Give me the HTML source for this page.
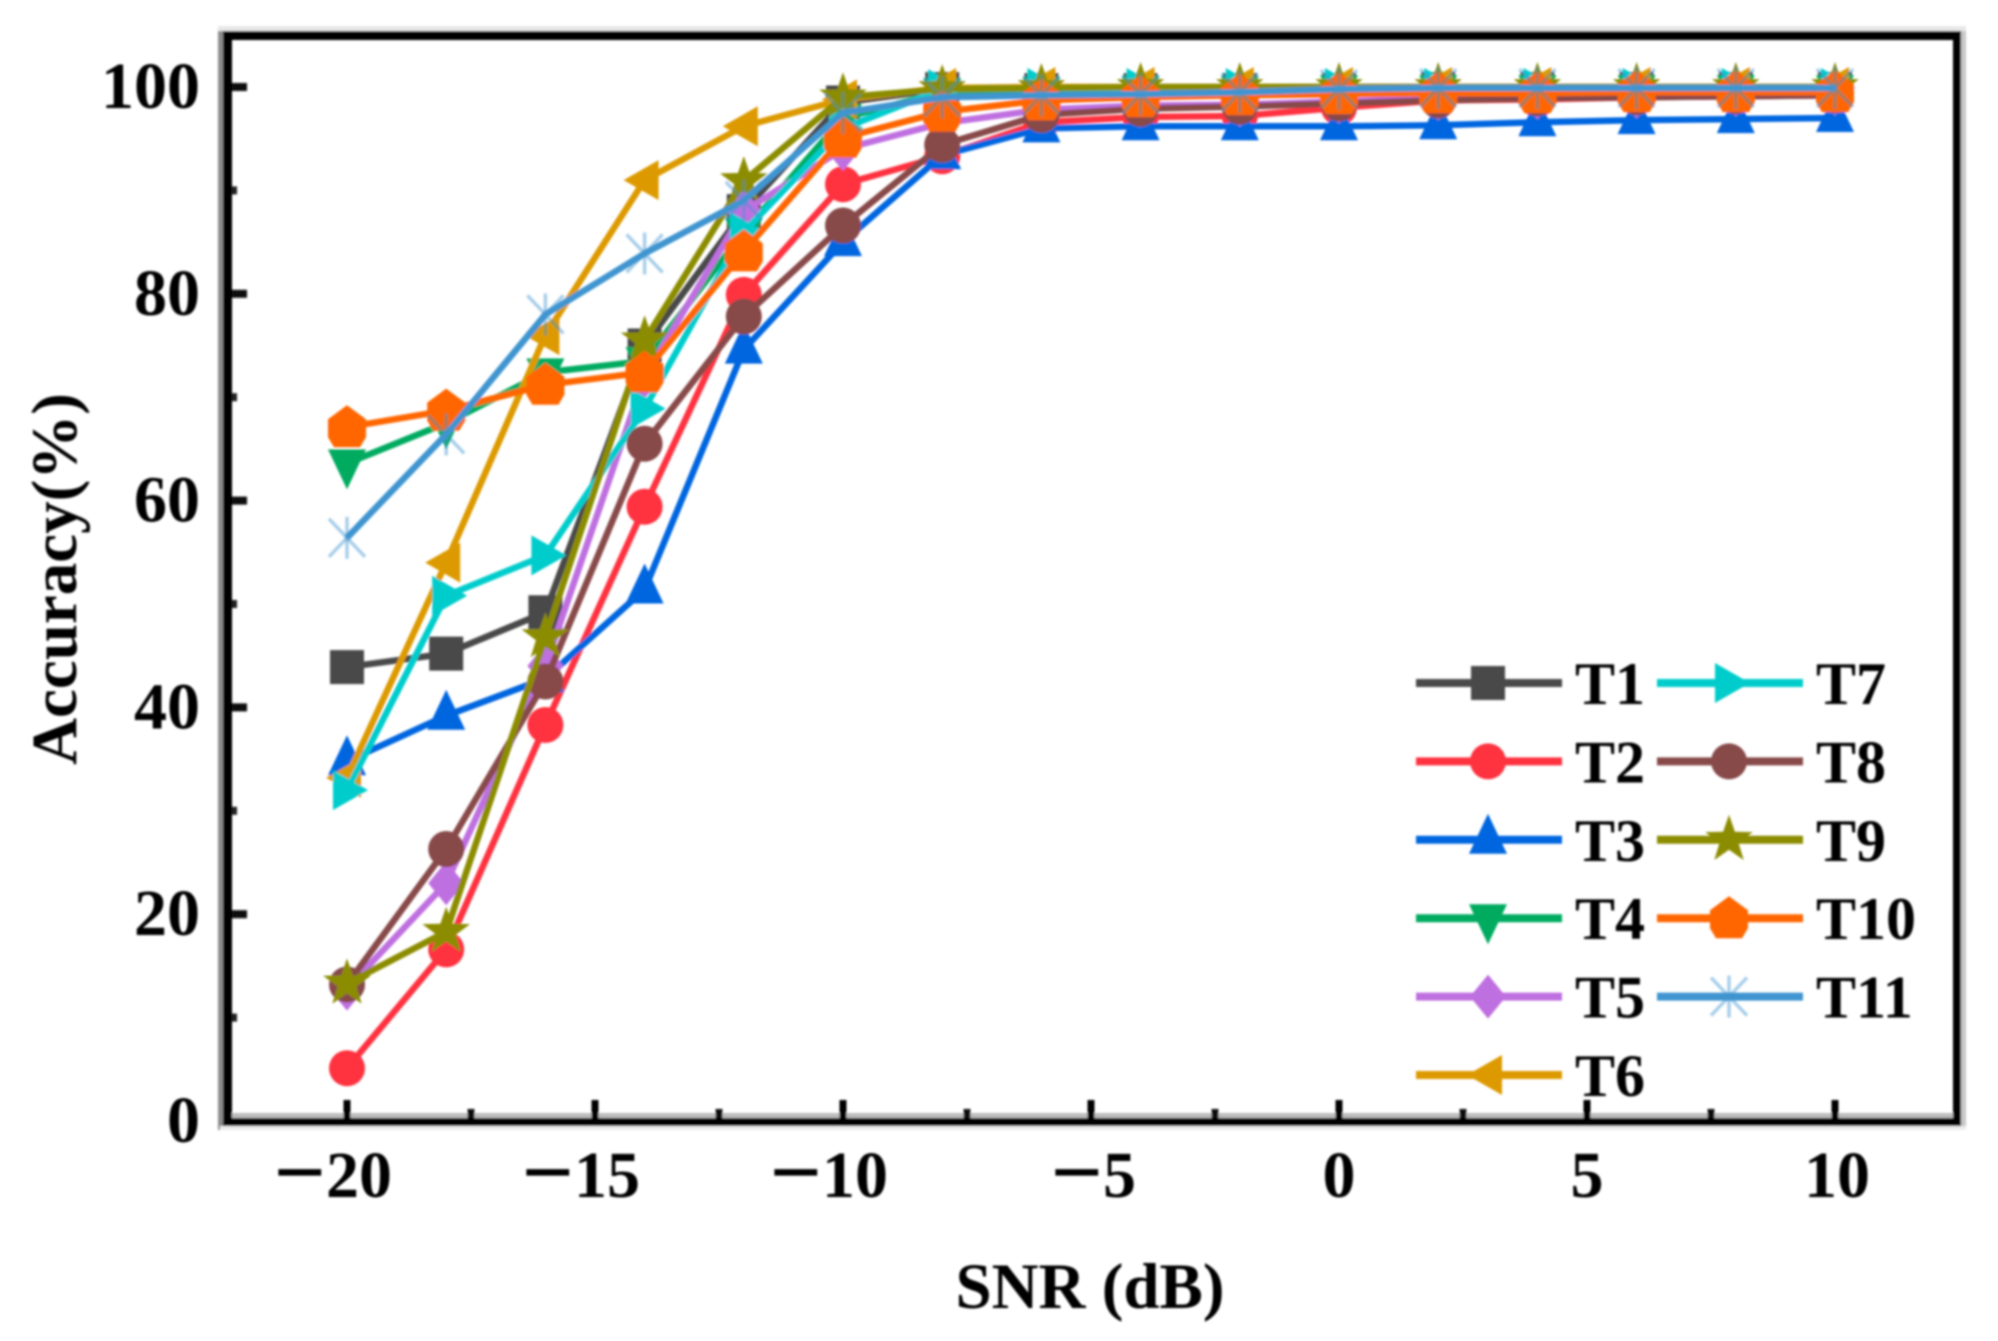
<!DOCTYPE html>
<html lang="en">
<head>
<meta charset="utf-8">
<title>Accuracy vs SNR</title>
<style>
html,body{margin:0;padding:0;background:#fff;width:1998px;height:1341px;overflow:hidden}
svg{display:block}
text{font-family:"Liberation Serif",serif;font-weight:bold;fill:#000}
</style>
</head>
<body>
<svg id="chart" xmlns="http://www.w3.org/2000/svg" width="1998" height="1341" viewBox="0 0 1998 1341">
<defs>
<filter id="soft" filterUnits="userSpaceOnUse" x="0" y="0" width="1998" height="1341"><feGaussianBlur stdDeviation="1.1"/></filter>
</defs>
<g id="root" filter="url(#soft)">
<g id="frame">
<rect x="218" y="26" width="1748" height="5" fill="#e8e8e8"/>
<rect x="218" y="31" width="6" height="1099" fill="#8c8c8c"/>
<rect x="1961" y="31" width="5" height="1095" fill="#c8c8c8"/>
<rect x="232" y="1113" width="1721" height="5" fill="#bdbdbd"/>
<rect x="220" y="1126" width="1746" height="4" fill="#ececec"/>
<rect x="223" y="31" width="1738" height="9" fill="#060606"/>
<rect x="223" y="31" width="9" height="1095" fill="#000"/>
<rect x="1953" y="31" width="8" height="1095" fill="#000"/>
<rect x="223" y="1118" width="1738" height="8" fill="#000"/>
</g>
<g id="axes"></g>
<g id="series"></g>
<g id="legend"></g>
<text x="1090" y="1308" font-size="65" text-anchor="middle">SNR (dB)</text>
<text transform="translate(76,579) rotate(-90)" font-size="65" text-anchor="middle">Accuracy(%)</text>
</g>
</svg>
<script>
const snr = [-20,-18,-16,-14,-12,-10,-8,-6,-4,-2,0,2,4,6,8,10];
const xTicks = [-20,-15,-10,-5,0,5,10];
const xMinorTicks = [-17.5,-12.5,-7.5,-2.5,2.5,7.5];
const yTicks = [0,20,40,60,80,100];
const yMinorTicks = [10,30,50,70,90];
const seriesNames = ['T1','T2','T3','T4','T5','T6','T7','T8','T9','T10','T11'];
const seriesColors = ['#4a4a4a','#ff3340','#0066e0','#00ab60','#bf6fe0','#dd9a00','#00cccc','#884a4a','#8c8c00','#ff6600','#4095d0'];
const seriesMarkers = ['square','circle','up','down','diamond','left','right','circle','star','hexagon','asterisk'];
const t1 = [43.9,45.2,49.2,75,88,98.5,99.8,99.7,99.7,99.7,99.7,99.8,99.8,99.8,99.8,99.8];
const t2 = [5.1,16.6,38.3,59.4,79.9,90.6,93.3,96.6,97.1,97.2,98,98.7,98.8,99,99.1,99.2];
const t3 = [34.8,39.2,42.8,51.4,74.6,85,93.4,96,96.2,96.2,96.2,96.3,96.6,96.8,96.9,97];
const t4 = [63.6,67.5,72.4,73.5,86,97,99.5,99.6,99.7,99.7,99.8,99.8,99.8,99.8,99.8,99.8];
const t5 = [12.8,23,44,72,88,94,96.5,97.8,98.2,98.3,98.6,98.9,99,99.1,99.3,99.4];
const t6 = [33.2,54,76,91,96.2,98.8,99.9,100,100,100,100,100,100,100,100,100];
const t7 = [32,50.8,54.7,68.9,86,96,99.8,99.9,99.9,99.9,99.9,99.9,99.9,99.9,99.9,99.9];
const t8 = [13.2,26.3,42.5,65.5,77.8,86.6,94.4,97.3,97.9,98.1,98.4,98.7,98.9,99,99.1,99.2];
const t9 = [13.3,18.3,46.8,75.5,90.9,99,99.8,99.9,100,100,100,100,100,100,100,100];
const t10 = [67.1,68.7,71.2,72.4,84.1,95.1,97.6,98.7,99,99.2,99.3,99.4,99.4,99.5,99.5,99.5];
const t11 = [56.4,66.4,78,83.9,89,97.5,99,99.2,99.3,99.5,99.8,99.9,99.9,99.9,99.9,99.9];
const seriesValues = [t1,t2,t3,t4,t5,t6,t7,t8,t9,t10,t11];

const NS = 'http://www.w3.org/2000/svg';
function xScale(v){ return 347 + (v + 20) * 49.6; }
function yScale(v){ return 87 + (100 - v) * 10.34; }
function make(tag, attrs, parent){
  const el = document.createElementNS(NS, tag);
  for (const k in attrs) el.setAttribute(k, attrs[k]);
  parent.appendChild(el);
  return el;
}
function markerShape(kind, cx, cy, color, parent){
  let el;
  const poly = function(pts){
    return make('polygon', {points: pts.map(function(p){ return (cx+p[0]).toFixed(1)+','+(cy+p[1]).toFixed(1); }).join(' '), fill: color}, parent);
  };
  if (kind === 'square') el = make('rect', {x: cx-17, y: cy-17, width: 34, height: 34, fill: color}, parent);
  else if (kind === 'circle') el = make('circle', {cx: cx, cy: cy, r: 18, fill: color}, parent);
  else if (kind === 'up') el = poly([[0,-26],[19,14],[-19,14]]);
  else if (kind === 'down') el = poly([[0,26],[19,-14],[-19,-14]]);
  else if (kind === 'left') el = poly([[-21,0],[14,-20],[14,20]]);
  else if (kind === 'right') el = poly([[21,0],[-14,-20],[-14,20]]);
  else if (kind === 'diamond') el = poly([[0,-22],[18,0],[0,22],[-18,0]]);
  else if (kind === 'hexagon') el = poly([[0,-22],[19,-8],[19,10],[13,20],[-13,20],[-19,10],[-19,-8]]);
  else if (kind === 'star') {
    const pts = [];
    for (let k = 0; k < 10; k++) {
      const r = k % 2 ? 10 : 25;
      const a = -Math.PI / 2 + k * Math.PI / 5;
      pts.push([r * Math.cos(a), r * Math.sin(a)]);
    }
    el = poly(pts);
  } else {
    el = make('g', {stroke: color, 'stroke-opacity': 0.45, 'stroke-width': 3.5}, parent);
    make('line', {x1: cx, y1: cy-21, x2: cx, y2: cy+21}, el);
    make('line', {x1: cx-18, y1: cy-19, x2: cx+18, y2: cy+19}, el);
    make('line', {x1: cx-18, y1: cy+19, x2: cx+18, y2: cy-19}, el);
  }
  return el;
}

const axes = document.getElementById('axes');
xTicks.forEach(function(v){
  const x = xScale(v);
  const tick = make('rect', {x: x-3.5, y: 1100, width: 7, height: 18, fill: '#000'}, axes);
  
  
  const label = make('text', {y: 1197, 'font-size': 66}, axes);
  
  
  if (v < 0) {
    label.setAttribute('x', x + 45);
    label.setAttribute('text-anchor', 'end');
    const minus = make('tspan', {'font-size': 92, dy: 6}, label);
    minus.textContent = '\u2212';
    const digits = make('tspan', {dy: -6}, label);
    digits.textContent = String(-v);
  } else {
    label.setAttribute('x', x + (v === 10 ? 2 : 0));
    label.setAttribute('text-anchor', 'middle');
    label.textContent = String(v);
  }
});
xMinorTicks.forEach(function(v){
  const tick = make('rect', {x: xScale(v)-3.5, y: 1109, width: 7, height: 9, fill: '#111'}, axes);
  
  
});
yTicks.forEach(function(v){
  const y = yScale(v);
  if (v > 0) {
    const tick = make('rect', {x: 232, y: y-4, width: 15, height: 8, fill: '#111'}, axes);
    
    
  }
  const label = make('text', {x: 200, y: y + 21, 'font-size': 66, 'text-anchor': 'end'}, axes);
  
  
  label.textContent = String(v);
});
yMinorTicks.forEach(function(v){
  const tick = make('rect', {x: 232, y: yScale(v)-4, width: 5, height: 8, fill: '#222'}, axes);
  
  
});

const seriesLayer = document.getElementById('series');
seriesValues.forEach(function(values, i){
  const group = make('g', {}, seriesLayer);
  
  
  const line = make('polyline', {
    points: values.map(function(v, j){ return xScale(snr[j]).toFixed(1) + ',' + yScale(v).toFixed(1); }).join(' '),
    fill: 'none', stroke: seriesColors[i], 'stroke-width': 6.5, 'stroke-linejoin': 'round'
  }, group);
  
  
  values.forEach(function(v, j){
    const m = markerShape(seriesMarkers[i], xScale(snr[j]), yScale(v), seriesColors[i], group);
    
    
  });
});

const legend = document.getElementById('legend');
seriesNames.forEach(function(name, i){
  const col = i < 6 ? 0 : 1;
  const row = i < 6 ? i : i - 6;
  const left = 1416 + col * 241;
  const cy = 683 + row * 78.4;
  const entry = make('g', {}, legend);
  
  
  make('line', {x1: left, y1: cy, x2: left + 146, y2: cy, stroke: seriesColors[i], 'stroke-width': 8}, entry);
  markerShape(seriesMarkers[i], left + 72, cy, seriesColors[i], entry);
  const label = make('text', {x: left + 159, y: cy + 21, 'font-size': 60}, entry);
  
  
  label.textContent = name;
});
</script>
</body>
</html>
